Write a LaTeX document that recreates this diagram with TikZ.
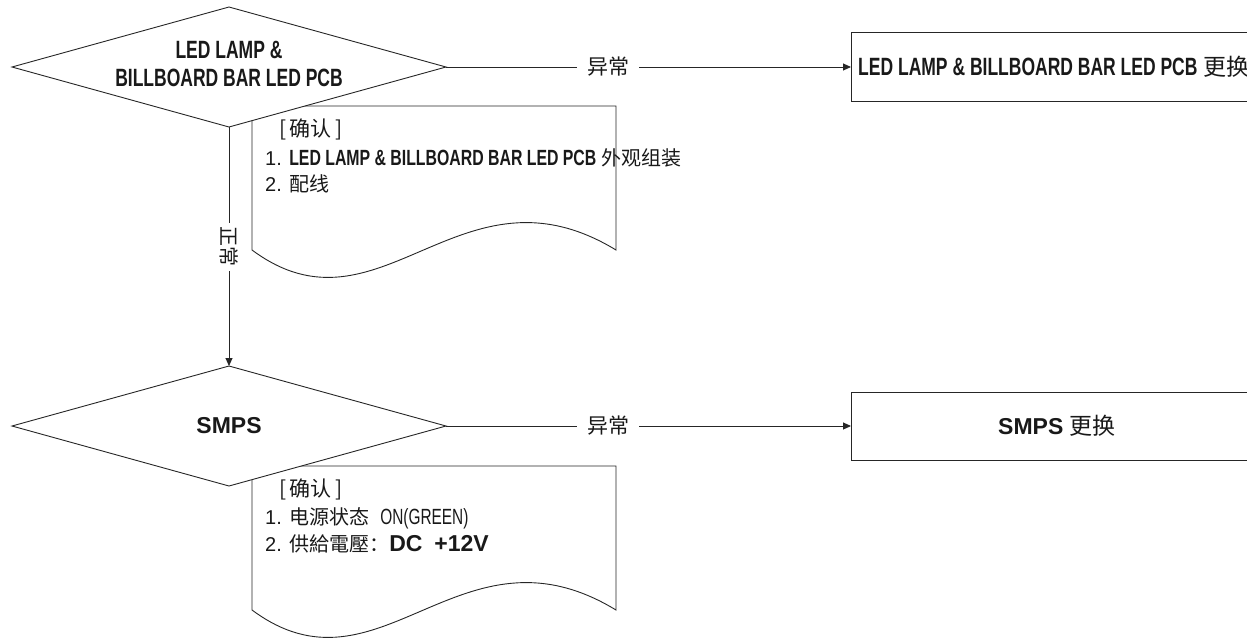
\documentclass[tikz,border=0pt]{standalone}
\usepackage{fontspec}
\setmainfont{Liberation Sans}
\newfontfamily\cjk{Noto Sans CJK SC}
\newfontfamily\condf{Liberation Sans}[FakeStretch=0.70]
\newfontfamily\condg{Liberation Sans}[FakeStretch=0.72]
\usetikzlibrary{arrows.meta,shapes.geometric}
\newcommand\setfs[2]{\fontsize{#1}{#2}\selectfont}
\begin{document}
\begin{tikzpicture}[x=1pt,y=-1pt,
  line/.style={draw=black!85, line width=0.9pt},
  arr/.style={line, -{Triangle[length=8pt,width=7pt]}},
  dia/.style={diamond, draw=black!85, line width=0.9pt, fill=white,
    minimum width=434pt, minimum height=120pt, inner sep=0pt, outer sep=0pt, aspect=3.6},
  rect/.style={draw=black!85, line width=0.9pt, minimum width=412pt, inner sep=0pt, outer sep=0pt},
  lbl/.style={fill=white, text=black!90, font=\cjk\setfs{21}{24}, inner xsep=10pt, inner ysep=2pt},
  vlbl/.style={fill=white, text=black!90, font=\cjk\setfs{20}{22}, inner xsep=4pt, inner ysep=2pt, rotate=-90},
  txt/.style={anchor=base west, inner sep=0pt, text=black!90}
]
\clip (0,0) rectangle (1247,638);

% document shapes
\draw[line] (252,250) -- (252,106) -- (616,106) -- (616,250)
  .. controls (460,155) and (380,345) .. (252,250);
\draw[line] (252,610) -- (252,466) -- (616,466) -- (616,610)
  .. controls (460,515) and (380,705) .. (252,610);

% decisions
\node[dia] (d1) at (229,67) {};
\node[dia] (d2) at (229,426) {};
\node[align=center, text=black!90, font=\condf\bfseries\setfs{25}{28}] (d1t) at ([yshift=3.5pt]d1.center)
  {LED LAMP \&\\BILLBOARD BAR LED PCB};
\node[text=black!90, font=\bfseries\setfs{23}{26}] (d2t) at (d2.center) {SMPS};

% result boxes
\node[rect, minimum height=69pt] (b1) at (1057,67) {};
\node[anchor=west, inner sep=0pt, text=black!90, font=\setfs{25}{28}] (b1t) at ([xshift=7pt]b1.west)
  {{\condf\bfseries LED LAMP \& BILLBOARD BAR LED PCB}\hspace{6pt}{\cjk\setfs{23}{26}更换}};
\node[rect, minimum height=68pt, font=\setfs{23}{26}, text=black!90] (b2) at (1057,426)
  {{\bfseries SMPS} {\cjk\setfs{23}{26}更换}};

% connectors
\draw[arr] (d1.east) -- node[lbl, pos=0.4] (l1) {异常} (b1.west);
\draw[arr] (d2.east) -- node[lbl, pos=0.4] (l2) {异常} (b2.west);
\draw[arr] (d1.south) -- node[vlbl, pos=0.5] (l3) {正常} (d2.north);

% notes 1
\node[txt, font=\cjk\setfs{21}{24}] (n1a) at (279,136) {[\,确认\,]};
\node[txt, font=\setfs{20}{24}] (n1b) at (265,165)
  {1. {\condg\bfseries\setfs{22}{24}LED LAMP \& BILLBOARD BAR LED PCB} {\cjk 外观组装}};
\node[txt, font=\setfs{20}{24}] (n1c) at (265,191) {2. {\cjk 配线}};

% notes 2
\node[txt, font=\cjk\setfs{21}{24}] (n2a) at (279,496) {[\,确认\,]};
\node[txt, font=\setfs{20}{24}] (n2b) at (265,524)
  {1. {\cjk 电源状态}\hspace{11pt}{\condf\setfs{22}{24}ON(GREEN)}};
\node[txt, font=\setfs{20}{24}] (n2c) at (265,551)
  {2. {\cjk 供給電壓：}{\bfseries\setfs{23}{24}DC\hspace{12pt}+12V}};
\end{tikzpicture}
\end{document}
